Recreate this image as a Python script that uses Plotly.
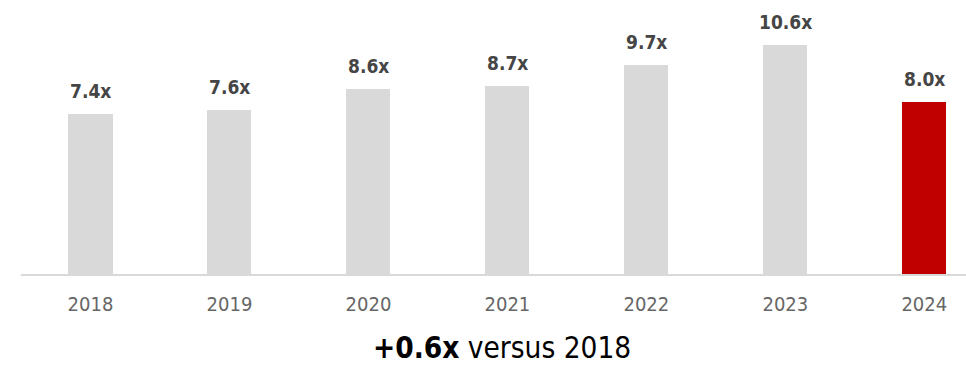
import plotly.graph_objects as go

# Annual multiple, 2018-2024
years = ["2018", "2019", "2020", "2021", "2022", "2023", "2024"]
multiples = [7.4, 7.6, 8.6, 8.7, 9.7, 10.6, 8.0]
label_text = [f"{v:.1f}x" for v in multiples]

GREY = "#d9d9d9"
RED = "#c00000"
bar_colors = [GREY] * (len(years) - 1) + [RED]

x_pos = list(range(len(years)))

fig = go.Figure()
fig.add_trace(go.Bar(
    x=x_pos,
    y=multiples,
    width=0.317,
    marker=dict(color=bar_colors, line=dict(width=0)),
    hoverinfo="skip",
    showlegend=False,
))

# value labels above each bar
for xi, v, t in zip(x_pos, multiples, label_text):
    fig.add_annotation(
        x=xi, y=v, xref="x", yref="y",
        text=t, showarrow=False,
        yanchor="bottom", yshift=10,
        font=dict(family="DejaVu Sans Condensed", size=19, color="#454545", weight=600),
    )

# headline change since the first year
change = multiples[-1] - multiples[0]
fig.add_annotation(
    x=0.509, y=0, xref="paper", yref="paper",
    text=f"<b>{change:+.1f}x</b> versus {years[0]}",
    showarrow=False, yanchor="bottom", yshift=-92, borderpad=0,
    font=dict(family="DejaVu Sans Condensed", size=29.5, color="#000000"),
)

fig.update_layout(
    width=966, height=368,
    margin=dict(l=21, r=0, t=0, b=94),
    paper_bgcolor="white", plot_bgcolor="white",
    bargap=0,
)
fig.update_xaxes(
    range=[-0.5, 6.3],
    tickmode="array", tickvals=x_pos, ticktext=years,
    showgrid=False, zeroline=False,
    showline=True, linecolor=GREY, linewidth=2,
    ticks="", ticklabelstandoff=11,
    tickfont=dict(family="DejaVu Sans Condensed", size=20, color="#666666"),
    fixedrange=True,
)
fig.update_yaxes(
    range=[0, 12.71], visible=False, showgrid=False, zeroline=False,
    fixedrange=True,
)

fig.write_html("out.html", config={"displayModeBar": False})
